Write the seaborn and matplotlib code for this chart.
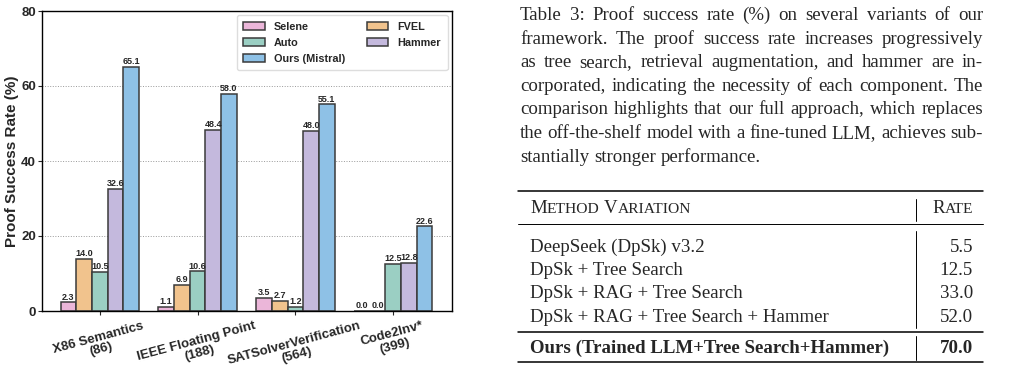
import pandas as pd
import matplotlib
matplotlib.use("Agg")
import matplotlib.pyplot as plt
import seaborn as sns

# Data
benchmarks = ["X86 Semantics\n(86)", "IEEE Floating Point\n(188)",
              "SATSolverVerification\n(564)", "Code2Inv*\n(399)"]
methods = ["Selene", "FVEL", "Auto", "Hammer", "Ours (Mistral)"]
selene = [2.3, 1.1, 3.5, 0.0]
fvel = [14.0, 6.9, 2.7, 0.0]
auto = [10.5, 10.6, 1.2, 12.5]
hammer = [32.6, 48.4, 48.0, 12.8]
ours = [65.1, 58.0, 55.1, 22.6]
colors = ["#EBB6D9", "#F1C38D", "#9BCFC3", "#C4B9DD", "#8EC1E6"]

caption_lines = [
    "Table 3: Proof success rate (%) on several variants of our",
    "framework. The proof success rate increases progressively",
    "as tree search, retrieval augmentation, and hammer are in-",
    "corporated, indicating the necessity of each component. The",
    "comparison highlights that our full approach, which replaces",
    "the off-the-shelf model with a fine-tuned LLM, achieves sub-",
    "stantially stronger performance.",
]
header_method = "Method Variation"
header_rate = "Rate"
row_names = ["DeepSeek (DpSk) v3.2", "DpSk + Tree Search",
             "DpSk + RAG + Tree Search", "DpSk + RAG + Tree Search + Hammer"]
row_rates = [5.5, 12.5, 33.0, 52.0]
best_name = "Ours (Trained LLM+Tree Search+Hammer)"
best_rate = 70.0

sns.set_style("ticks")
plt.rcParams["font.family"] = ["Liberation Sans", "DejaVu Sans"]

values = {"Selene": selene, "FVEL": fvel, "Auto": auto,
          "Hammer": hammer, "Ours (Mistral)": ours}
df = pd.DataFrame([(b, m, values[m][i]) for m in methods
                   for i, b in enumerate(benchmarks)],
                  columns=["benchmark", "method", "rate"])

W, H = 1009, 374
fig = plt.figure(figsize=(W / 100, H / 100), dpi=100)

# Bar chart
ax = fig.add_axes([42 / W, 63 / H, 410 / W, 300 / H])
sns.barplot(data=df, x="benchmark", y="rate", hue="method", hue_order=methods,
            palette=colors, saturation=1, edgecolor="#3a3a3a", linewidth=1.1,
            ax=ax)
for c in ax.containers:
    ax.bar_label(c, fmt="%.1f", fontsize=6.5, fontweight="bold", padding=0.5)
ax.set_ylim(0, 80)
ax.set_xlim(-0.59, 3.6)
ax.set_yticks([0, 20, 40, 60, 80])
ax.yaxis.grid(True, linestyle=":", color="#999999", linewidth=0.7)
ax.set_axisbelow(True)
ax.set_xlabel("")
ax.set_ylabel("Proof Success Rate (%)", fontsize=11, fontweight="bold")
ax.yaxis.set_label_coords(-0.055, 0.5)
ax.tick_params(axis="y", labelsize=9.5, length=3, pad=1.5)
ax.tick_params(axis="x", labelsize=9.5, length=3)
for lbl in ax.get_yticklabels():
    lbl.set_fontweight("bold")
for lbl in ax.get_xticklabels():
    lbl.set_fontweight("bold")
    lbl.set_rotation(15)
    lbl.set_ha("center")
    lbl.set_linespacing(1.0)
for s in ax.spines.values():
    s.set_visible(True)
    s.set_color("black")
    s.set_linewidth(1.0)

h, l = ax.get_legend_handles_labels()
order = [0, 2, 4, 1, 3]
ax.legend([h[i] for i in order], [l[i] for i in order], loc="upper right",
          ncol=2, prop={"weight": "bold", "size": 7.8}, frameon=True,
          edgecolor="#dddddd", framealpha=1, handlelength=2.0,
          handleheight=0.7, handletextpad=0.85, columnspacing=2.0,
          borderaxespad=0.4, labelspacing=0.55, borderpad=0.6)

# Caption and table on the right (pixel coordinates)
tx = fig.add_axes([0, 0, 1, 1])
tx.set_xlim(0, W)
tx.set_ylim(H, 0)
tx.axis("off")
renderer = fig.canvas.get_renderer()
serif = ["Liberation Serif", "DejaVu Serif"]
fs = 13.6


def width(t):
    return t.get_window_extent(renderer=renderer).width


def justify(line, x0, x1, y, justified=True):
    words = line.split(" ")
    texts = [tx.text(0, y, w, fontsize=fs, family=serif, va="baseline")
             for w in words]
    ws = [width(t) for t in texts]
    if justified and len(words) > 1:
        gap = (x1 - x0 - sum(ws)) / (len(words) - 1)
    else:
        gap = fs * 0.25 * 100 / 72
    x = x0
    for t, w in zip(texts, ws):
        t.set_x(x)
        x += w + gap


def small_caps(s, x, y, size, right=False):
    pieces = []
    for word in s.split(" "):
        pieces.append((word[0], size))
        pieces.append((word[1:].upper(), size * 0.82))
        pieces.append((" ", size))
    pieces = pieces[:-1]
    texts = [tx.text(0, y, p, fontsize=sz, family=serif, va="baseline")
             for p, sz in pieces]
    ws = [width(t) for t in texts]
    ws = [w if p != " " else size * 0.35 for w, (p, _) in zip(ws, pieces)]
    start = x - sum(ws) if right else x
    for t, w in zip(texts, ws):
        t.set_x(start)
        start += w


cap_x0, cap_x1 = 520, 983
for i, line in enumerate(caption_lines):
    justify(line, cap_x0, cap_x1, 20 + i * 23.6,
            justified=i < len(caption_lines) - 1)

left, right, vx, rx, nx = 518, 983, 916, 973, 530
tx.plot([left, right], [191, 191], color="black", lw=1.1)
tx.plot([left, right], [224, 224], color="black", lw=0.7)
tx.plot([left, right], [332, 332], color="black", lw=1.1)
tx.plot([left, right], [362, 362], color="black", lw=1.1)
for y0, y1 in [(199, 221), (231, 328), (336, 360)]:
    tx.plot([vx, vx], [y0, y1], color="black", lw=0.7)

small_caps(header_method, nx, 213, fs)
small_caps(header_rate, rx, 213, fs, right=True)
for i, (name, rate) in enumerate(zip(row_names, row_rates)):
    y = 251.5 + i * 23.4
    tx.text(nx, y, name, fontsize=fs, family=serif, va="baseline")
    tx.text(rx, y, f"{rate:.1f}", fontsize=fs, family=serif, va="baseline",
            ha="right")
tx.text(nx, 353, best_name, fontsize=fs, family=serif, va="baseline",
        fontweight="bold")
tx.text(rx, 353, f"{best_rate:.1f}", fontsize=fs, family=serif,
        va="baseline", ha="right", fontweight="bold")

fig.savefig("out.png", dpi=100)
